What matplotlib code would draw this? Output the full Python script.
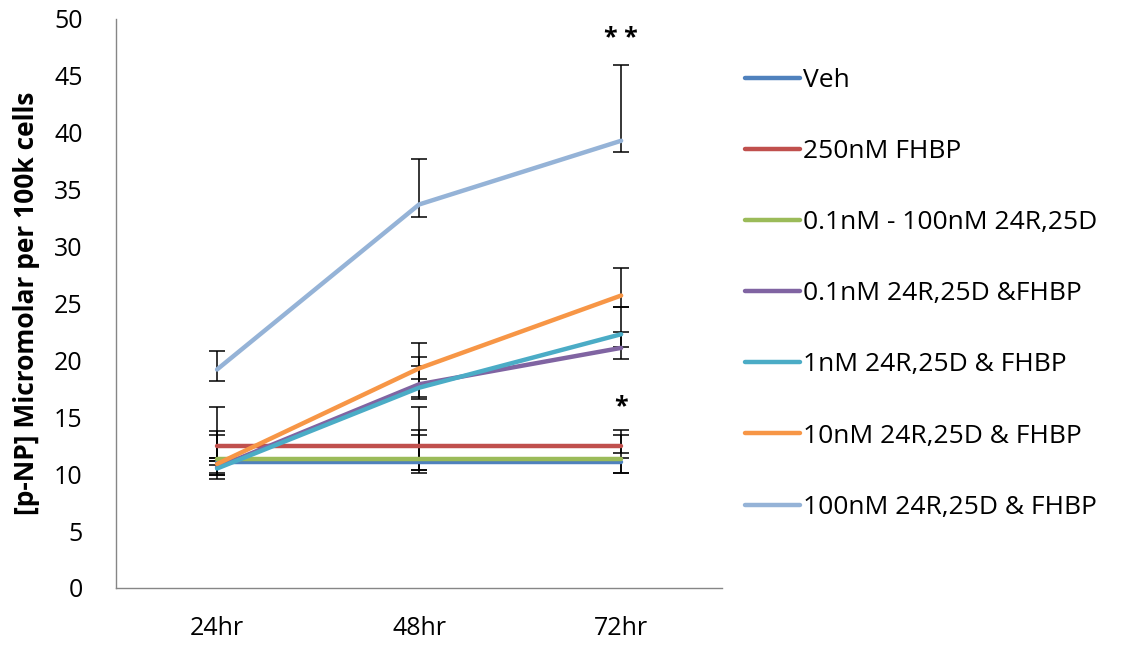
import numpy as np
import matplotlib.pyplot as plt

plt.rcParams['font.family'] = ['Open Sans', 'DejaVu Sans']

times = ['24hr', '48hr', '72hr']
labels = ['Veh', '250nM FHBP', '0.1nM - 100nM 24R,25D', '0.1nM 24R,25D &FHBP',
          '1nM 24R,25D & FHBP', '10nM 24R,25D & FHBP', '100nM 24R,25D & FHBP']
colors = ['#4F81BD', '#C0504D', '#9BBB59', '#8064A2', '#4BACC6', '#F79646', '#95B3D7']

veh = [11.05, 11.05, 11.05]
fhbp = [12.5, 12.5, 12.5]
d24_only = [11.35, 11.35, 11.35]
d01_fhbp = [10.6, 17.9, 21.1]
d1_fhbp = [10.5, 17.6, 22.3]
d10_fhbp = [10.9, 19.3, 25.7]
d100_fhbp = [19.2, 33.7, 39.3]

# error bar ends (lower, upper) per series
veh_lo = [10.1, 10.4, 10.1]
veh_hi = [11.4, 13.4, 11.4]
fhbp_lo = [11.2, 10.4, 11.9]
fhbp_hi = [13.4, 15.9, 13.9]
d24_lo = [10.8, 10.1, 10.1]
d24_hi = [13.8, 13.9, 13.4]
d01_lo = [9.9, 16.8, 20.1]
d01_hi = [15.9, 20.3, 22.5]
d1_lo = [9.6, 16.6, 21.2]
d1_hi = [11.2, 19.5, 24.7]
d10_lo = [9.9, 18.4, 24.7]
d10_hi = [11.4, 21.5, 28.1]
d100_lo = [18.2, 32.6, 38.3]
d100_hi = [20.8, 37.7, 46.0]

series = [veh, fhbp, d24_only, d01_fhbp, d1_fhbp, d10_fhbp, d100_fhbp]
lows = [veh_lo, fhbp_lo, d24_lo, d01_lo, d1_lo, d10_lo, d100_lo]
highs = [veh_hi, fhbp_hi, d24_hi, d01_hi, d1_hi, d10_hi, d100_hi]

fig = plt.figure(figsize=(11.33, 6.5), dpi=100)
ax = fig.add_axes([0.1024, 0.0954, 0.535, 0.8754])
x = np.arange(len(times))

for vals, lo, hi, c, lab in zip(series, lows, highs, colors, labels):
    vals = np.array(vals)
    yerr = [vals - np.array(lo), np.array(hi) - vals]
    ax.errorbar(x, vals, yerr=yerr, fmt='none', ecolor='black',
                elinewidth=1.1, capsize=6, capthick=1.1, zorder=2)
    ax.plot(x, vals, color=c, lw=3.2, label=lab, zorder=3,
            solid_capstyle='round')

ax.text(2, 48.3, '* *', ha='center', va='center', fontsize=18, fontweight='bold')
ax.text(2, 15.9, '*', ha='center', va='center', fontsize=18, fontweight='bold')

ax.set_xlim(-0.5, 2.5)
ax.set_ylim(0, 50)
ax.set_yticks(np.arange(0, 51, 5))
ax.set_xticks(x)
ax.set_xticklabels(times)
ax.tick_params(length=0, labelsize=18)
ax.tick_params(axis='x', pad=20)
ax.tick_params(axis='y', pad=24)
for s in ['top', 'right']:
    ax.spines[s].set_visible(False)
for s in ['left', 'bottom']:
    ax.spines[s].set_color('#868686')
    ax.spines[s].set_linewidth(1)

ax.set_ylabel('[p-NP] Micromolar per 100k cells', fontsize=19, fontweight='bold',
              labelpad=10)

ax.legend(loc='upper left', bbox_to_anchor=(0.648, 0.912), bbox_transform=fig.transFigure,
          frameon=False, fontsize=19, handlelength=2.1, handletextpad=0.1,
          labelspacing=1.75, borderaxespad=0)

fig.savefig('out.png', dpi=100)
